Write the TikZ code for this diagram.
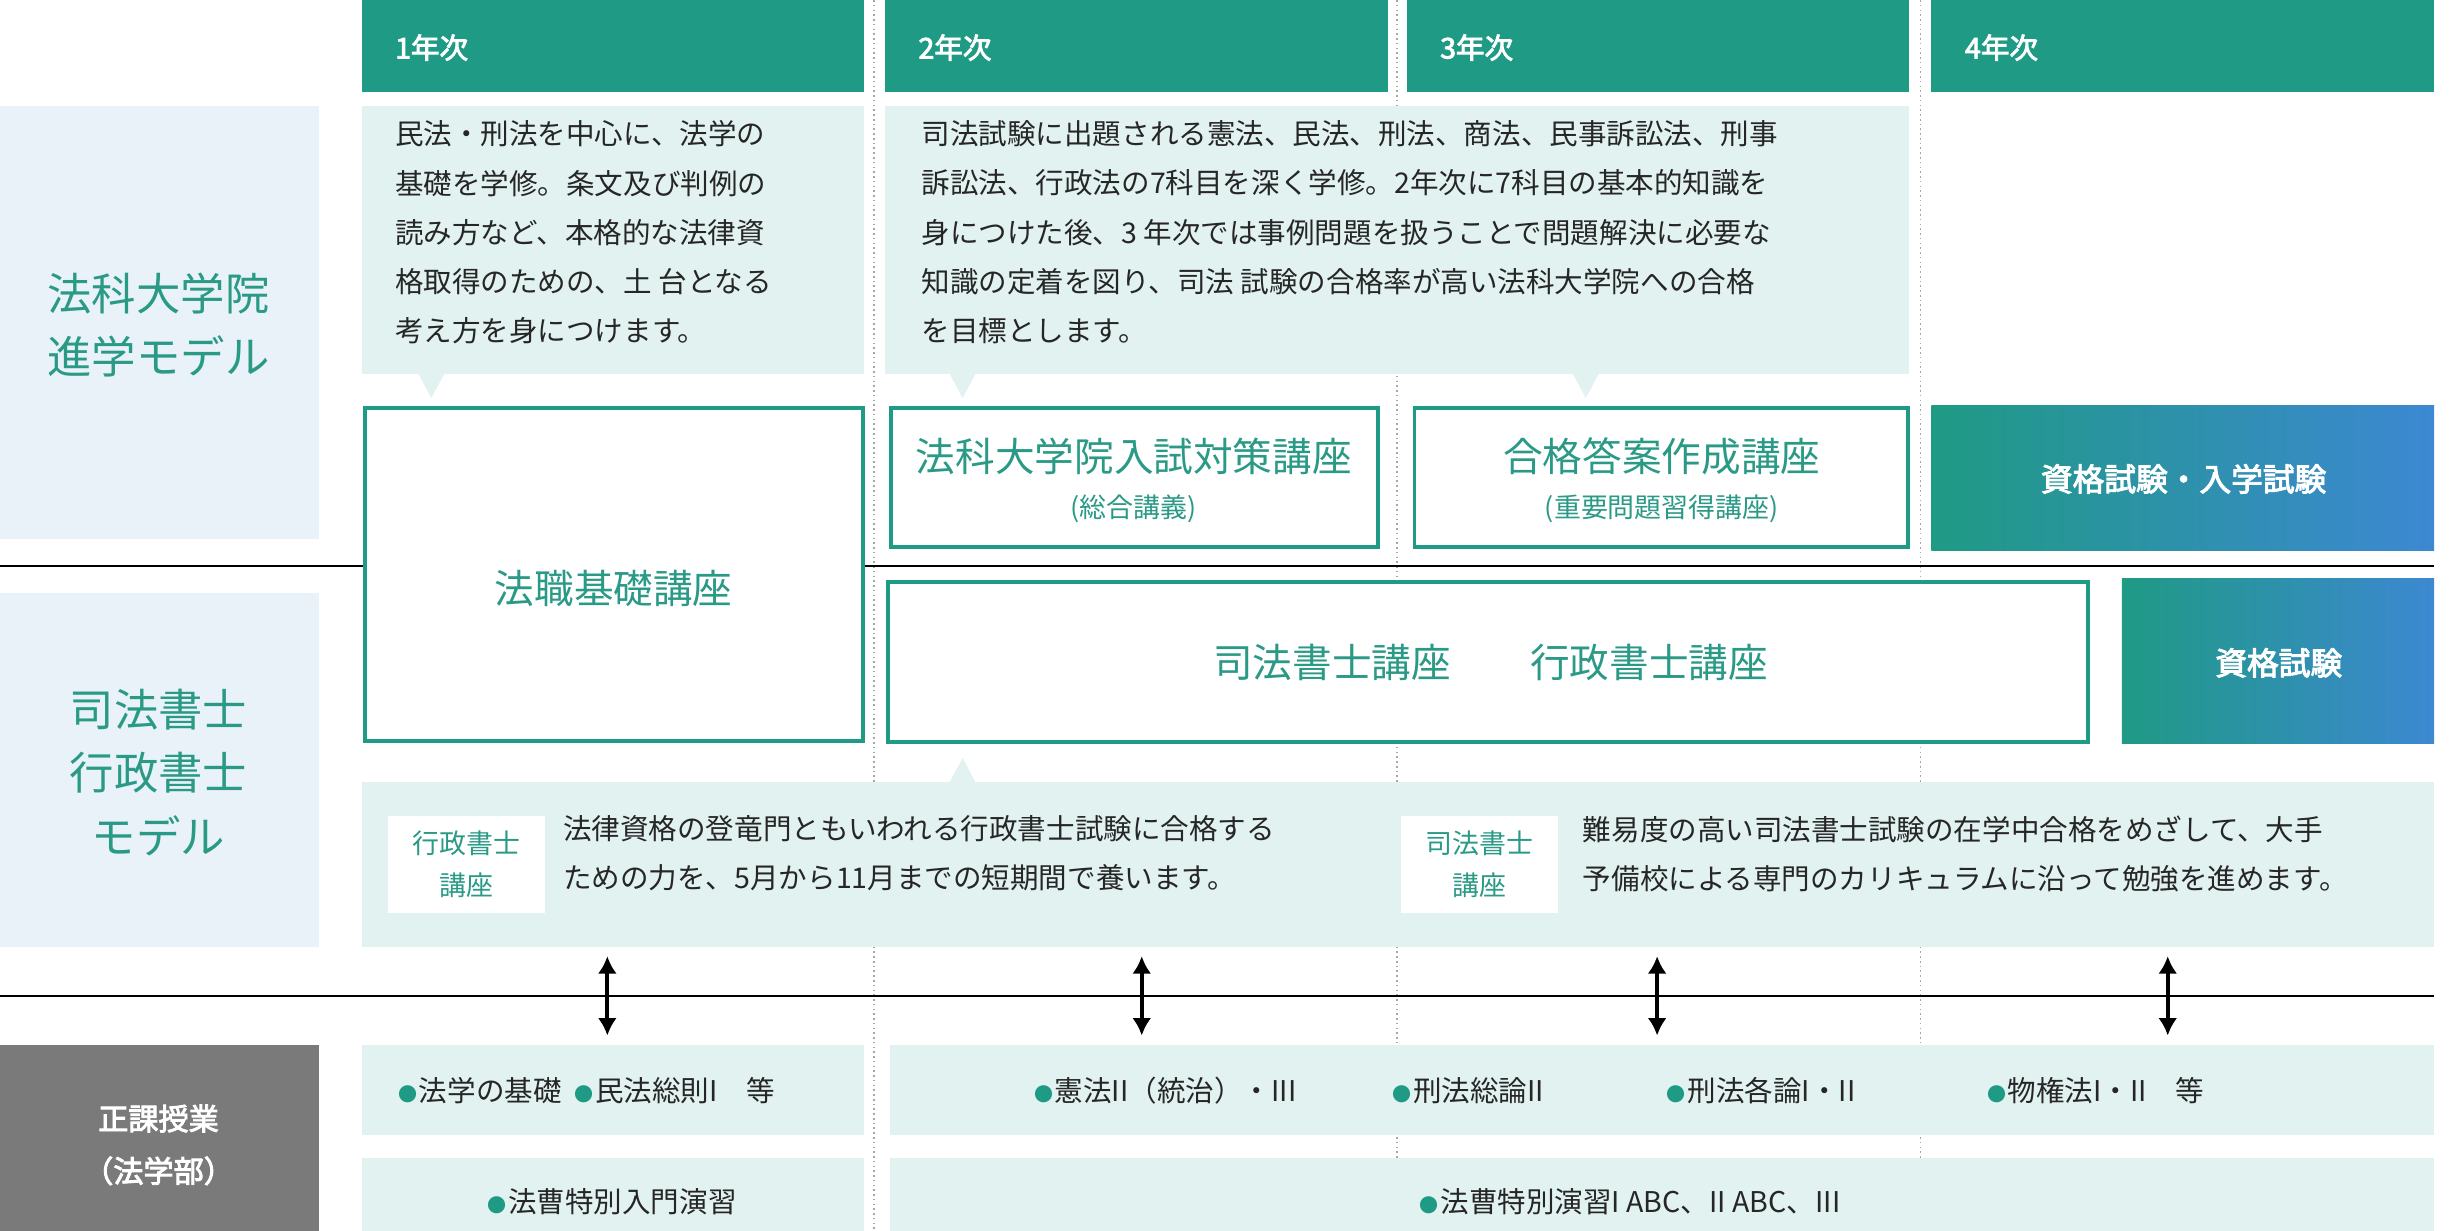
\documentclass[tikz,border=0pt]{standalone}
\usepackage{fontspec}
\setmainfont{Noto Sans CJK JP}
\newfontfamily\jpb{Noto Sans CJK JP}[FakeBold=3]
\usetikzlibrary{arrows.meta,shapes.geometric}
\definecolor{teal1}{HTML}{1F9A84}
\definecolor{tealtxt}{HTML}{2A9A86}
\definecolor{pale}{HTML}{E1F2F0}
\definecolor{paleblue}{HTML}{E8F2F8}
\definecolor{blue1}{HTML}{3C88D2}
\definecolor{gry}{HTML}{7A7A7A}
\tikzset{
 hdr/.style={fill=teal1,draw=none},
 hdrtxt/.style={anchor=west,text=white,font=\jpb\fontsize{18}{18}\selectfont,inner sep=0},
 desc/.style={fill=pale,draw=none},
 body/.style={anchor=north west,align=left,inner sep=0,font=\fontsize{18}{31}\selectfont,text=black!85},
 course/.style={draw=teal1,line width=2.5pt,fill=white},
 big/.style={text=tealtxt,font=\fontsize{25}{30}\selectfont,inner sep=0},
 sub/.style={text=tealtxt,font=\fontsize{17}{20}\selectfont,inner sep=0},
 grad/.style={left color=teal1,right color=blue1,draw=none},
 gtxt/.style={text=white,font=\jpb\fontsize{20}{24}\selectfont,inner sep=0},
 side/.style={text=tealtxt,font=\fontsize{28}{40}\selectfont,align=center,inner sep=0},
 lab/.style={fill=white,draw=none,minimum width=99pt,minimum height=61pt,text=tealtxt,font=\fontsize{17}{27}\selectfont,align=center,inner sep=0},
 row/.style={anchor=west,inner sep=0,font=\fontsize{18}{20}\selectfont,text=black!85},
 dbl/.style={{Latex[length=11pt,width=12pt]}-{Latex[length=11pt,width=12pt]},line width=2.5pt},
 vdot/.style={draw=gray!70,dotted,line width=1pt}
}
\newcommand{\bul}{{\color{teal1}\fontsize{12}{12}\selectfont ●}\kern1pt}
\begin{document}
\begin{tikzpicture}[x=1pt,y=-1pt]
\useasboundingbox (0,0) rectangle (1545,776);
\foreach \x in {551,881,1211} \draw[vdot] (\x,0) -- (\x,776);
\coordinate (h1a) at (0,357); \coordinate (h1b) at (1535,357);
\coordinate (h2a) at (0,628); \coordinate (h2b) at (1535,628);
\draw[line width=1.2pt] (h1a) -- (h1b);
\draw[line width=1.2pt] (h2a) -- (h2b);
\foreach \a/\b/\t in {228/545/1年次,558/875/2年次,887/1204/3年次,1218/1535/4年次}{
 \fill[hdr] (\a,0) rectangle (\b,58);
 \node[hdrtxt] at (\a+21,30) {\t};}
\fill[paleblue] (0,67) rectangle (201,340);
\fill[paleblue] (0,374) rectangle (201,597);
\fill[gry] (0,659) rectangle (201,776);
\node[side] (s1) at (100,205) {法科大学院\\進学モデル};
\node[side] (s2) at (100,487) {司法書士\\行政書士\\モデル};
\node[text=white,font=\jpb\fontsize{19}{33}\selectfont,align=center,inner sep=0] (s3) at (100,722) {正課授業\\（法学部）};
\fill[desc] (228,67) rectangle (545,236);
\fill[desc] (264,236) -- (280,236) -- (272,251) -- cycle;
\node[body] (d1) at (249,76) {民法・刑法を中心に、法学の\\基礎を学修。条文及び判例の\\読み方など、本格的な法律資\\格取得のための、土 台となる\\考え方を身につけます。};
\fill[desc] (558,67) rectangle (1204,236);
\fill[desc] (599,236) -- (615,236) -- (607,251) -- cycle;
\fill[desc] (992,236) -- (1008,236) -- (1000,251) -- cycle;
\node[body] (d2) at (581,76) {司法試験に出題される憲法、民法、刑法、商法、民事訴訟法、刑事\\訴訟法、行政法の7科目を深く学修。2年次に7科目の基本的知識を\\身につけた後、3 年次では事例問題を扱うことで問題解決に必要な\\知識の定着を図り、司法 試験の合格率が高い法科大学院への合格\\を目標とします。};
\draw[course] (230,257) rectangle (544,467);
\node[big] (c1) at (387,371) {法職基礎講座};
\draw[course] (562,257) rectangle (869,345);
\node[big] (c2) at (715,288) {法科大学院入試対策講座};
\node[sub] (c2s) at (715,321) {(総合講義)};
\draw[course] (892,257) rectangle (1203,345);
\node[big] (c3) at (1048,288) {合格答案作成講座};
\node[sub] (c3s) at (1048,321) {(重要問題習得講座)};
\fill[grad] (1218,256) rectangle (1535,347);
\node[gtxt] (g1) at (1377,302) {資格試験・入学試験};
\draw[course] (560,367) rectangle (1317,468);
\node[big] (c4) at (940,418) {司法書士講座\hspace{2em}行政書士講座};
\fill[grad] (1338,365) rectangle (1535,469);
\node[gtxt] (g2) at (1437,418) {資格試験};
\fill[desc] (228,493) rectangle (1535,597);
\fill[desc] (599,493) -- (615,493) -- (607,478) -- cycle;
\node[lab] (l1) at (294,545) {行政書士\\講座};
\node[body] (t1) at (355,514) {法律資格の登竜門ともいわれる行政書士試験に合格する\\ための力を、5月から11月までの短期間で養います。};
\node[lab] (l2) at (933,545) {司法書士\\講座};
\node[body] (t2) at (998,514) {難易度の高い司法書士試験の在学中合格をめざして、大手\\予備校による専門のカリキュラムに沿って勉強を進めます。};
\foreach \x/\n in {383/a,720/b,1045/c,1367/d}{
 \coordinate (u\n) at (\x,603); \coordinate (v\n) at (\x,653);
 \draw[dbl] (u\n) -- (v\n);}
\fill[desc] (228,659) rectangle (545,716);
\fill[desc] (561,659) rectangle (1535,716);
\fill[desc] (228,730) rectangle (545,776);
\fill[desc] (561,730) rectangle (1535,776);
\node[row] (r1) at (251,688) {\bul 法学の基礎\ \ \bul 民法総則I\quad 等};
\node[row] (r2) at (652,688) {\bul 憲法II（統治）・III};
\node[row] (r3) at (878,688) {\bul 刑法総論II};
\node[row] (r4) at (1051,688) {\bul 刑法各論I・II};
\node[row] (r5) at (1253,688) {\bul 物権法I・II\quad 等};
\node[row,anchor=center] (r6) at (386,758) {\bul 法曹特別入門演習};
\node[row,anchor=center] (r7) at (1028,758) {\bul 法曹特別演習I ABC、II ABC、III};
\end{tikzpicture}
\end{document}
